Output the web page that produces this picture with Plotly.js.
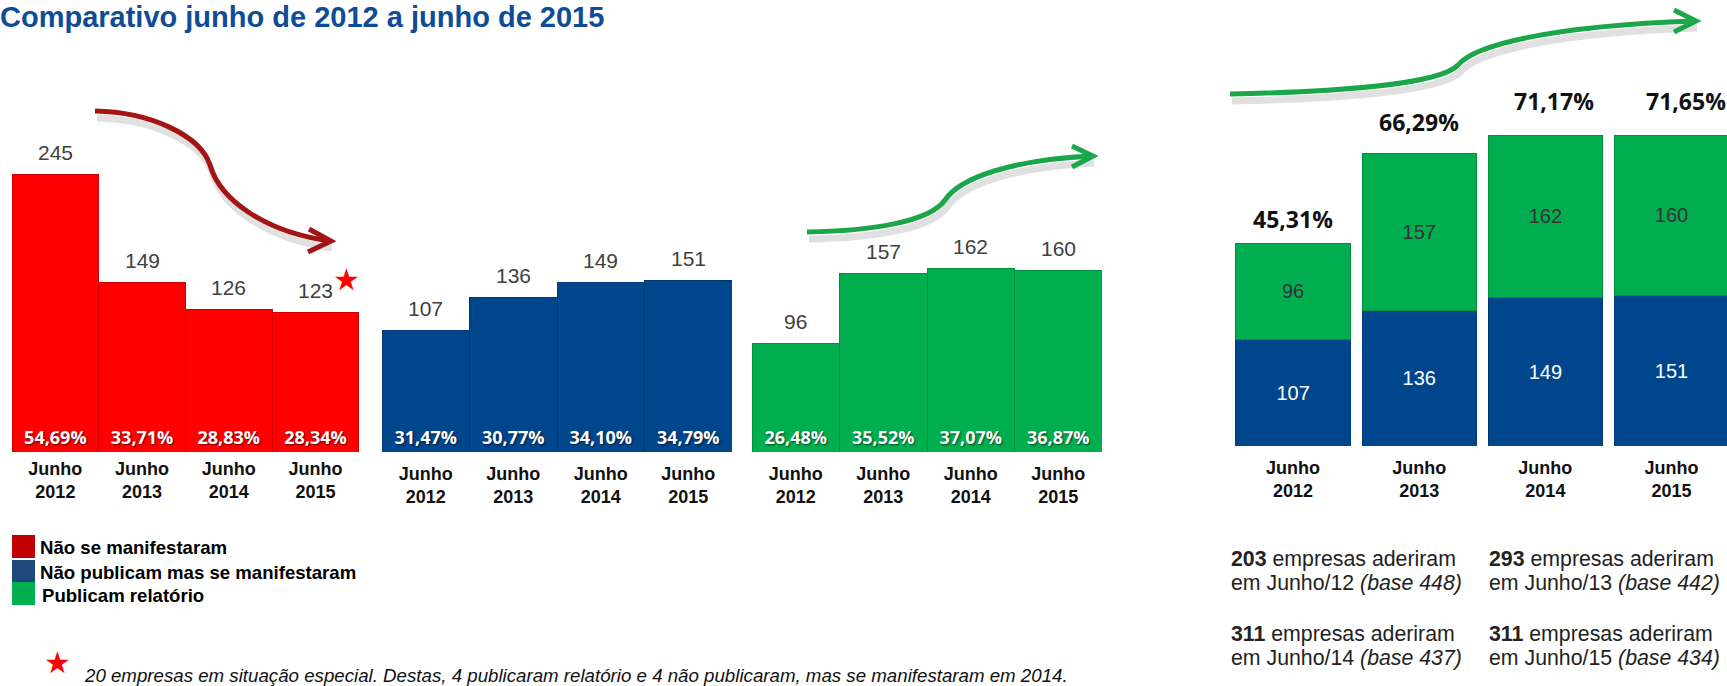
<!DOCTYPE html>
<html><head><meta charset="utf-8">
<script src="https://cdn.plot.ly/plotly-3.0.1.min.js"></script>
<style>html,body{margin:0;padding:0;background:#fff;} #chart{width:1727px;height:686px;}</style>
</head><body><div id="chart"></div>
<script>
// ---------- data ----------
const periods = ['Junho<br>2012','Junho<br>2013','Junho<br>2014','Junho<br>2015'];
const naoManifestaram = [245,149,126,123];
const naoManifestaramPct = ['54,69%','33,71%','28,83%','28,34%'];
const naoPublicam = [107,136,149,151];
const naoPublicamPct = ['31,47%','30,77%','34,10%','34,79%'];
const publicam = [96,157,162,160];
const publicamPct = ['26,48%','35,52%','37,07%','36,87%'];
const aderiramPct = ['45,31%','66,29%','71,17%','71,65%'];
const aderiram = [203,293,311,311];
const bases = [448,442,437,434];
const mesAno = ['Junho/12','Junho/13','Junho/14','Junho/15'];
const seriesNames = ['Não se manifestaram','Não publicam mas se manifestaram','Publicam relatório'];
const chartTitle = 'Comparativo junho de 2012 a junho de 2015';
const footnote = '20 empresas em situação especial. Destas, 4 publicaram relatório e 4 não publicaram, mas se manifestaram em 2014.';

// ---------- geometry / style ----------
const W = 1727, H = 686;
const px = v => v / W;
const py = v => 1 - v / H;
const RED = '#FF0000', BLUE = '#00468C', GREEN = '#00AE50';
const legendColors = ['#C00000', '#1F497D', '#00B050'];

const pctFont = {family:'Open Sans, Arial, sans-serif', size:18, color:'#ffffff', weight:'bold', shadow:'1px 1px 2px rgba(0,0,0,0.6)'};
function leftBar(y, pct, color, line, xa){
  return {type:'bar', x:periods, y:y, xaxis:xa, yaxis:'y', width:1,
    marker:{color:color, line:{color:line, width:1}},
    text:pct, textposition:'inside', insidetextanchor:'start', textangle:0,
    textfont:pctFont, hoverinfo:'skip', showlegend:false, cliponaxis:false};
}
const traces = [
  leftBar(naoManifestaram, naoManifestaramPct, RED, '#D00000', 'x'),
  leftBar(naoPublicam, naoPublicamPct, BLUE, '#003A75', 'x2'),
  leftBar(publicam, publicamPct, GREEN, '#009040', 'x3'),
  {type:'bar', x:periods, y:naoPublicam, xaxis:'x4', yaxis:'y2', width:0.905,
    marker:{color:BLUE, line:{color:'#003A75', width:1}},
    text:naoPublicam.map(String), textposition:'inside', insidetextanchor:'middle', textangle:0,
    textfont:{family:'Arial', size:20, color:'#ffffff'}, hoverinfo:'skip', showlegend:false},
  {type:'bar', x:periods, y:publicam, xaxis:'x4', yaxis:'y2', width:0.905,
    marker:{color:GREEN, line:{color:'#009040', width:1}},
    text:publicam.map(String), textposition:'inside', insidetextanchor:'middle', textangle:0,
    textfont:{family:'Arial', size:20, color:'#333333'}, hoverinfo:'skip', showlegend:false}
];

const tickFont = {family:'Arial', size:18, color:'#111111', weight:'bold'};
function xAx(d0, d1, anchor, standoff){
  return {domain:[px(d0), Math.min(1, px(d1))], anchor:anchor, type:'category', showgrid:false, zeroline:false,
    showline:false, ticks:'', tickfont:tickFont, ticklabelstandoff:standoff, fixedrange:true};
}
const leftScale = 1.1347; // px per unit
const annotations = [];

// value labels above left bars
[[naoManifestaram,'x'],[naoPublicam,'x2'],[publicam,'x3']].forEach(([arr, xa]) => {
  arr.forEach((v, i) => annotations.push({xref:xa, yref:'y', x:periods[i], y:v, text:String(v),
    showarrow:false, yanchor:'middle', yshift:22, font:{family:'Arial', size:21, color:'#404040'}}));
});
// star on last red bar
annotations.push({xref:'x', yref:'y', x:periods[3], y:naoManifestaram[3], text:'★', showarrow:false,
  xshift:31, yshift:33, yanchor:'middle', font:{family:'DejaVu Sans', size:30, color:'#FF0000'}});

// percentages above stacked bars
const pctShiftX = [0, 0, 9, 14], pctShiftY = [24, 31, 34, 34];
aderiramPct.forEach((t, i) => annotations.push({xref:'x4', yref:'y2', x:periods[i],
  y:naoPublicam[i] + publicam[i], text:t, showarrow:false, yanchor:'middle',
  xshift:pctShiftX[i], yshift:pctShiftY[i],
  font:{family:'Open Sans, Arial, sans-serif', size:23, color:'#111111', weight:'bold'}}));

// text blocks under the stacked chart
const colX = [1229, 1487], rowY = [559, 634];
aderiram.forEach((n, i) => {
  const x = colX[i % 2], y = rowY[Math.floor(i / 2)];
  const f = {family:'Arial', size:21.3, color:'#222222'};
  annotations.push({xref:'paper', yref:'paper', x:px(x), y:py(y), xanchor:'left', yanchor:'middle',
    showarrow:false, text:'<b>' + n + '</b> empresas aderiram', font:f});
  annotations.push({xref:'paper', yref:'paper', x:px(x), y:py(y + 24), xanchor:'left', yanchor:'middle',
    showarrow:false, text:'em ' + mesAno[i] + ' <i>(base ' + bases[i] + ')</i>', font:f});
});

// legend (custom)
const legendRows = [[535,558,547,38], [560,582,572,38], [582,605,595,40]];
const shapes = [];
seriesNames.forEach((name, i) => {
  const r = legendRows[i];
  shapes.push({type:'rect', xref:'paper', yref:'paper', x0:px(12), x1:px(35), y0:py(r[1]), y1:py(r[0]),
    fillcolor:legendColors[i], line:{width:0}});
  annotations.push({xref:'paper', yref:'paper', x:px(r[3]), y:py(r[2]), xanchor:'left', yanchor:'middle',
    showarrow:false, text:name, font:{family:'Arial', size:18.6, color:'#000000', weight:'bold'}});
});

// footnote
annotations.push({xref:'paper', yref:'paper', x:px(57), y:py(662), xanchor:'center', yanchor:'middle',
  showarrow:false, text:'★', font:{family:'DejaVu Sans', size:30, color:'#FF0000'}});
annotations.push({xref:'paper', yref:'paper', x:px(82), y:py(675), xanchor:'left', yanchor:'middle',
  showarrow:false, text:'<i>' + footnote + '</i>', font:{family:'Arial', size:18.7, color:'#111111'}});

// decorative trend arrows
function path(cmds){
  return cmds.map(c => c[0] + ' ' + c.slice(1).reduce((a, v, k) => a.concat(k % 2 === 0 ? px(v) : py(v)), []).join(' ')).join(' ');
}
function shifted(cmds, dx, dy){ return cmds.map(c => [c[0]].concat(c.slice(1).map((v, k) => v + (k % 2 === 0 ? dx : dy)))); }
const arrows = [
  {color:'#A31515', body:[['M',95,111],['C',150,112,200,135,210,165],['C',220,200,265,232,330,241]],
   head:[['M',309,229],['L',331,241],['L',308,252]]},
  {color:'#1BA64A', body:[['M',807,232],['C',870,231,930,222,945,200],['C',960,178,1010,160,1092,156]],
   head:[['M',1072,146],['L',1093,156],['L',1072,167]]},
  {color:'#1BA64A', body:[['M',1230,94],['C',1330,92,1440,85,1458,65],['C',1475,45,1550,26,1695,21]],
   head:[['M',1674,10],['L',1696,21],['L',1674,32]]}
];
arrows.forEach(a => {
  shapes.push({type:'path', xref:'paper', yref:'paper', path:path(shifted(a.body, 2, 7)), line:{color:'rgba(0,0,0,0.12)', width:7}});
});
arrows.forEach(a => {
  shapes.push({type:'path', xref:'paper', yref:'paper', path:path(a.body), line:{color:a.color, width:5}});
  shapes.push({type:'path', xref:'paper', yref:'paper', path:path(a.head), line:{color:a.color, width:5}});
});

const xa4 = xAx(1230, 1727, 'y2', 9);
xa4.range = [-0.5, 3.44];
const layout = {
  width:W, height:H, margin:{l:0, r:0, t:0, b:0}, paper_bgcolor:'#ffffff', plot_bgcolor:'rgba(0,0,0,0)',
  barmode:'stack', bargap:0, showlegend:false,
  title:{text:'<b>' + chartTitle + '</b>', x:0, xref:'paper', xanchor:'left', y:1 - 17 / H, yref:'container', yanchor:'middle',
    pad:{l:0, r:0, t:0, b:0}, font:{family:'Arial', size:29, color:'#0F4C98'}},
  xaxis: xAx(12, 362, 'y', 4),
  xaxis2: xAx(382, 732, 'y', 9),
  xaxis3: xAx(752, 1102, 'y', 9),
  xaxis4: xa4,
  yaxis: {domain:[py(452), py(100)], range:[0, (452 - 100) / leftScale], visible:false, fixedrange:true},
  yaxis2: {domain:[py(446), py(100)], range:[0, 346], visible:false, fixedrange:true},
  annotations:annotations, shapes:shapes, font:{family:'Arial'}
};
Plotly.newPlot('chart', traces, layout, {displayModeBar:false, staticPlot:true});
</script></body></html>
